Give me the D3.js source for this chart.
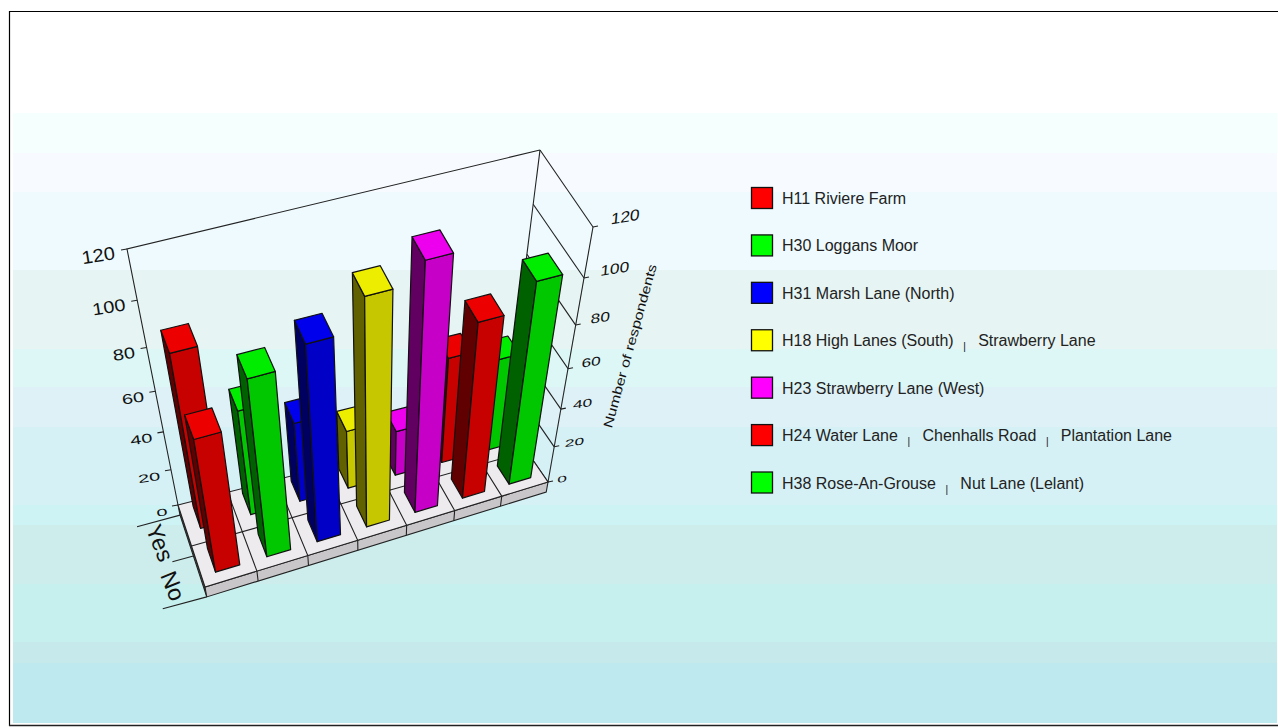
<!DOCTYPE html>
<html>
<head>
<meta charset="utf-8">
<title>Number of respondents</title>
<script src="https://cdnjs.cloudflare.com/ajax/libs/d3/7.8.5/d3.min.js"></script>
<style>
  html, body { margin: 0; padding: 0; background: #fff; }
  svg { display: block; font-family: "Liberation Sans", Arial, sans-serif; }
</style>
</head>
<body>
<div id="chart"></div>
<script>
// Survey answers per housing area
const seriesNames = ["H11", "H30", "H31", "H18", "H23", "H24", "H38"];
const seriesColors = ["#ff0000", "#00ff00", "#0000ff", "#ffff00", "#ff00ff", "#ff0000", "#00ff00"];
const yesValues = [88, 55, 42, 31, 24, 54, 47];
const noValues = [70, 90, 98, 111, 119, 88, 99];
const rowLabels = ["Yes", "No"];
const valueTicks = [0, 20, 40, 60, 80, 100, 120];
const legendLabels = [
  ["H11 Riviere Farm"],
  ["H30 Loggans Moor"],
  ["H31 Marsh Lane (North)"],
  ["H18 High Lanes (South)", "Strawberry Lane"],
  ["H23 Strawberry Lane (West)"],
  ["H24 Water Lane", "Chenhalls Road", "Plantation Lane"],
  ["H38 Rose-An-Grouse", "Nut Lane (Lelant)"]
];

// Stepped background, top edge of each band and its colour
const bandStarts = [12, 113, 153, 192, 270, 349, 387, 427, 505, 525, 584, 642, 663];
const bandColors = ["#ffffff", "#f5fffd", "#f7fafe", "#eefafe", "#e6f5f3", "#ddf7f7", "#ddf1f6",
                    "#d6f1f6", "#cef3f5", "#ccedec", "#c6f0ed", "#c6eaec", "#bee9ef"];

const width = 1278;
const height = 728;

// Corners of the 3D box on screen: [u, depth, value]
const corners = {
  "000": [178, 505], "100": [506, 421], "010": [205, 587], "110": [548, 482],
  "001": [127, 249], "101": [540, 150], "011": [161, 337], "111": [593, 227]
};

const foreshorten = (t, r) => r * t / (1 + t * (r - 1));
const uScale = d3.scaleLinear().domain([0, seriesNames.length]).range([0, 1]);
const valueScale = d3.scaleLinear().domain([0, 120]).range([0, 1]);

// Trilinear placement between the box corners
function project(cat, depth, value) {
  const u = foreshorten(uScale(cat), 1.07);
  const w = foreshorten(valueScale(value), 0.8);
  const mix = (i) => {
    const c = (k) => corners[k][i];
    const back = d3.interpolateNumber(
      d3.interpolateNumber(c("000"), c("100"))(u),
      d3.interpolateNumber(c("001"), c("101"))(u))(w);
    const front = d3.interpolateNumber(
      d3.interpolateNumber(c("010"), c("110"))(u),
      d3.interpolateNumber(c("011"), c("111"))(u))(w);
    return back + (front - back) * depth;
  };
  return [mix(0), mix(1)];
}

const line = d3.line();
const quad = (pts) => line(pts) + "Z";
const shade = (color, k) => {
  const c = d3.rgb(color);
  return d3.rgb(c.r * k, c.g * k, c.b * k).formatHex();
};

const svg = d3.select("#chart").append("svg").attr("width", width).attr("height", height);

/* Background and frame */
svg.append("g").selectAll("rect")
  .data(bandStarts)
  .join("rect")
  .attr("x", 13)
  .attr("y", d => d)
  .attr("width", width - 14)
  .attr("height", (d, i) => (i + 1 < bandStarts.length ? bandStarts[i + 1] : 723) - d)
  .attr("fill", (d, i) => bandColors[i]);

svg.append("path")
  .attr("d", `M9.5,726V11.5H${width}`)
  .attr("fill", "none")
  .attr("stroke", "#000")
  .attr("stroke-width", 1.2);
svg.append("line")
  .attr("x1", 9).attr("x2", width).attr("y1", 725.5).attr("y2", 725.5)
  .attr("stroke", "#222").attr("stroke-width", 1.4);

/* Wall lines */
const nCat = seriesNames.length;
const baseValue = -6;
const walls = svg.append("g").attr("fill", "none").attr("stroke", "#222").attr("stroke-width", 1.1);

walls.append("path").attr("d", line([project(0, 0, 0), project(0, 0, 120), project(nCat, 0, 120)]));
walls.append("path").attr("d", line([project(nCat, 0, 120), project(nCat, 0, 0)]));
walls.append("path").attr("d", line([project(nCat, 1, 0), project(nCat, 1, 120)]));
walls.selectAll(".grid")
  .data(valueTicks)
  .join("path")
  .attr("class", "grid")
  .attr("d", d => line([project(nCat, 0, d), project(nCat, 1, d)]));

// tick stubs on both value axes
walls.selectAll(".tickLeft")
  .data(valueTicks)
  .join("path")
  .attr("class", "tickLeft")
  .attr("d", d => {
    const p = project(0, 0, d);
    return line([p, [p[0] - 6, p[1] + 1]]);
  });
walls.selectAll(".tickRight")
  .data(valueTicks)
  .join("path")
  .attr("class", "tickRight")
  .attr("d", d => {
    const p = project(nCat, 1, d);
    return line([p, [p[0] + 5, p[1] - 1]]);
  });

/* Floor plate */
const floor = svg.append("g").attr("stroke", "#222").attr("stroke-width", 1.1);
floor.append("path")
  .attr("fill", "#6e6c6e")
  .attr("d", quad([project(0, 0, 0), project(0, 1, 0), project(0, 1, baseValue), project(0, 0, baseValue)]));
floor.append("path")
  .attr("fill", "#c8c6c9")
  .attr("d", quad([project(0, 1, 0), project(nCat, 1, 0), project(nCat, 1, baseValue), project(0, 1, baseValue)]));
floor.append("path")
  .attr("fill", "#eeebef")
  .attr("d", quad([project(0, 0, 0), project(nCat, 0, 0), project(nCat, 1, 0), project(0, 1, 0)]));
floor.selectAll(".cell")
  .data(d3.range(1, nCat))
  .join("path")
  .attr("class", "cell")
  .attr("fill", "none")
  .attr("d", d => line([project(d, 0, 0), project(d, 1, 0), project(d, 1, baseValue)]));
floor.append("path")
  .attr("fill", "none")
  .attr("d", line([project(0, 0.5, 0), project(nCat, 0.5, 0)]));

// row ticks under the plate edge
const rowTickLengths = [43, 21, 44];
floor.selectAll(".rowTick")
  .data(rowTickLengths)
  .join("path")
  .attr("class", "rowTick")
  .attr("d", (d, i) => {
    const p = project(0, i / 2, baseValue);
    return line([p, [p[0] - d, p[1] + d * 0.27]]);
  });

/* Bars: far row first, right to left inside each row */
const barRows = [
  { values: yesValues, v0: 0.06, v1: 0.33 },
  { values: noValues, v0: 0.58, v1: 0.87 }
];
const barData = barRows.flatMap(row =>
  d3.range(nCat - 1, -1, -1).map(i => ({ i, value: row.values[i], v0: row.v0, v1: row.v1, color: seriesColors[i] })));

const bars = svg.append("g").selectAll("g")
  .data(barData)
  .join("g")
  .attr("stroke", "#111")
  .attr("stroke-width", 1.2)
  .attr("stroke-linejoin", "round");

const ul = 0.27;
const ur = 0.74;
bars.append("path") // left side
  .attr("fill", d => shade(d.color, 0.38))
  .attr("d", d => quad([project(d.i + ul, d.v0, 0), project(d.i + ul, d.v1, 0),
                        project(d.i + ul, d.v1, d.value), project(d.i + ul, d.v0, d.value)]));
bars.append("path") // front
  .attr("fill", d => shade(d.color, 0.78))
  .attr("d", d => quad([project(d.i + ul, d.v1, 0), project(d.i + ur, d.v1, 0),
                        project(d.i + ur, d.v1, d.value), project(d.i + ul, d.v1, d.value)]));
bars.append("path") // top
  .attr("fill", d => shade(d.color, 0.93))
  .attr("d", d => quad([project(d.i + ul, d.v0, d.value), project(d.i + ur, d.v0, d.value),
                        project(d.i + ur, d.v1, d.value), project(d.i + ul, d.v1, d.value)]));

/* Axis text */
const leftScaleY = d3.scaleLinear().domain([0, 120]).range([0.5, 0.92]);
svg.append("g").selectAll("text")
  .data(valueTicks)
  .join("text")
  .attr("text-anchor", "end")
  .attr("font-size", 20)
  .attr("fill", "#111")
  .attr("transform", d => {
    const p = project(0, 0, d);
    return `translate(${p[0] - 10 - d * 0.01},${p[1] + 10}) rotate(-9) scale(1,${leftScaleY(d)})`;
  })
  .text(d => d);

const rightScaleY = d3.scaleLinear().domain([0, 120]).range([0.5, 0.88]);
svg.append("g").selectAll("text")
  .data(valueTicks)
  .join("text")
  .attr("font-size", 17.5)
  .attr("fill", "#111")
  .attr("transform", d => {
    const p = project(nCat, 1, d);
    return `translate(${p[0] + 9 + d * 0.07},${p[1] + 1 - d * 0.03}) rotate(-9) skewX(-14) scale(1,${rightScaleY(d)})`;
  })
  .text(d => d);

svg.append("text")
  .attr("text-anchor", "middle")
  .attr("dominant-baseline", "central")
  .attr("font-size", 16.2)
  .attr("fill", "#111")
  .attr("transform", "translate(630,346) rotate(-74.5) scale(1,0.8)")
  .text("Number of respondents");

const rowLabelSpots = [[160, 543], [173, 586]];
svg.append("g").selectAll("text")
  .data(rowLabels)
  .join("text")
  .attr("text-anchor", "middle")
  .attr("dominant-baseline", "central")
  .attr("font-size", 23)
  .attr("fill", "#111")
  .attr("transform", (d, i) => `translate(${rowLabelSpots[i][0]},${rowLabelSpots[i][1]}) rotate(68)`)
  .text(d => d);

/* Legend */
const legendY = d3.scaleLinear().domain([0, legendLabels.length - 1]).range([198, 482.5]);
const legend = svg.append("g").selectAll("g")
  .data(legendLabels)
  .join("g")
  .attr("transform", (d, i) => `translate(751,${legendY(i)})`);

legend.append("rect")
  .attr("x", 0.5).attr("y", -10.5).attr("width", 21).attr("height", 21)
  .attr("fill", (d, i) => seriesColors[i])
  .attr("stroke", "#111")
  .attr("stroke-width", 1.3);

legend.each(function (parts) {
  const row = d3.select(this);
  let x = 31;
  parts.forEach((part, k) => {
    if (k > 0) {
      row.append("text")
        .attr("x", x + 11).attr("y", 10)
        .attr("font-size", 10)
        .attr("text-anchor", "middle")
        .attr("fill", "#111")
        .text("|");
      x += 24.5;
    }
    const label = row.append("text")
      .attr("x", x).attr("y", 6)
      .attr("font-size", 16)
      .attr("fill", "#222")
      .text(part);
    x += label.node().getComputedTextLength();
  });
});
</script>
</body>
</html>
